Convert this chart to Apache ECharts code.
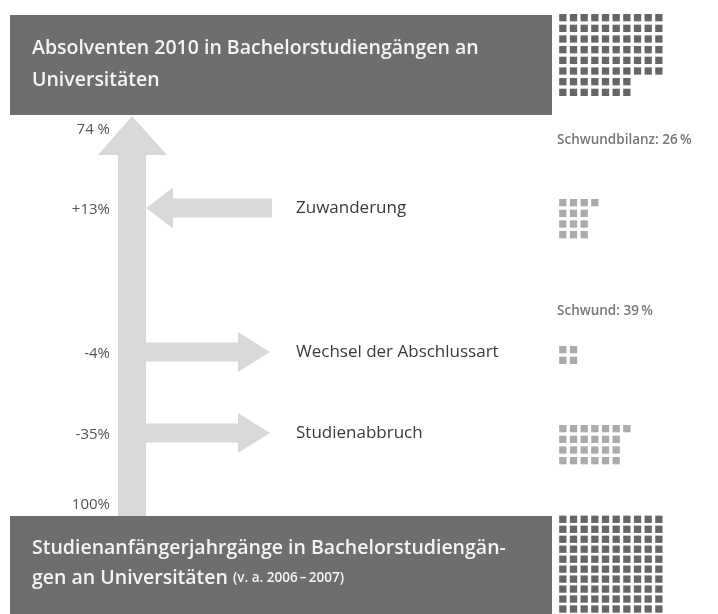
<!DOCTYPE html>
<html>
<head>
<meta charset="utf-8">
<script src="https://cdn.jsdelivr.net/npm/echarts@6/dist/echarts.min.js"></script>
<style>
    html, body { margin: 0; padding: 0; background: #fff; }
    #main { width: 718px; height: 614px; }
</style>
</head>
<body>
<div id="main"></div>
<script>
// Stufen zwischen Studienbeginn und Abschluss (von oben nach unten)
var stepNames = ['Zuwanderung', 'Wechsel der Abschlussart', 'Studienabbruch'];
var stepLabels = ['+13%', '-4%', '-35%'];
var stepDirs = [-1, 1, 1]; // -1 = Zufluss, 1 = Abfluss
var totalLabels = ['74 %', '100%'];
var balanceTexts = ['Schwundbilanz: 26\u2009%', 'Schwund: 39\u2009%'];

// Kästchen je Zeile in den Waffeldiagrammen
var waffleTop = [10, 10, 10, 10, 10, 10, 7, 7];
var waffleZu = [4, 3, 3, 3];
var waffleWechsel = [2, 2];
var waffleAbbruch = [7, 6, 6, 6];
var waffleBottom = [10, 10, 10, 10, 10, 10, 10, 10, 10, 10];

var BOX = '#6e6e6e';
var ARROW = '#d9d9d9';
var FONT = "'Open Sans', 'Noto Sans', sans-serif";

// Layout (Pixel, Koordinatensystem 0..718 x 0..614)
var stepY = [208, 352, 433];
var PITCH = 10.67;
var waffles = [
    { rows: waffleTop, top: 14, color: '#666666' },
    { rows: waffleZu, top: 199, color: '#ababab' },
    { rows: waffleWechsel, top: 346, color: '#ababab' },
    { rows: waffleAbbruch, top: 425, color: '#ababab' },
    { rows: waffleBottom, top: 516, color: '#666666' }
];

function waffleData(rows) {
    var out = [];
    rows.forEach(function (n, r) {
        for (var c = 0; c < n; c++) out.push([c + 0.5, r + 0.5]);
    });
    return out;
}

var chart = echarts.init(document.getElementById('main'));

var grids = [{ left: 0, top: 0, width: 718, height: 614 }];
var xAxes = [{ type: 'value', min: 0, max: 718, show: false, gridIndex: 0 }];
var yAxes = [{ type: 'value', min: 0, max: 614, inverse: true, show: false, gridIndex: 0 }];
var series = [];

waffles.forEach(function (w, i) {
    grids.push({ left: 557.5, top: w.top - 1.67, width: 10 * PITCH, height: w.rows.length * PITCH });
    xAxes.push({ type: 'value', min: 0, max: 10, show: false, gridIndex: i + 1 });
    yAxes.push({ type: 'value', min: 0, max: w.rows.length, inverse: true, show: false, gridIndex: i + 1 });
    series.push({
        type: 'scatter',
        xAxisIndex: i + 1,
        yAxisIndex: i + 1,
        symbol: 'rect',
        symbolSize: 7.3,
        clip: false,
        silent: true,
        itemStyle: { color: w.color, opacity: 1 },
        data: waffleData(w.rows)
    });
});

function txt(x, y, text, font, fill, align) {
    return {
        type: 'text',
        style: {
            x: x, y: y, text: text, font: font, fill: fill,
            align: align, textAlign: align,
            verticalAlign: 'middle', textVerticalAlign: 'middle'
        }
    };
}

// Hauptpfeil (100 % -> 74 %)
series.push({
    type: 'custom',
    xAxisIndex: 0,
    yAxisIndex: 0,
    silent: true,
    data: [totalLabels],
    renderItem: function (params, api) {
        var pts = [[118, 516], [118, 155], [98, 155], [132, 116], [167, 155], [146, 155], [146, 516]]
            .map(function (p) { return api.coord(p); });
        var top = api.coord([110, 130]);
        var bot = api.coord([110, 505]);
        return {
            type: 'group',
            children: [
                { type: 'polygon', shape: { points: pts }, style: { fill: ARROW } },
                txt(top[0], top[1], totalLabels[0], '15px ' + FONT, '#555', 'right'),
                txt(bot[0], bot[1], totalLabels[1], '15px ' + FONT, '#555', 'right')
            ]
        };
    }
});

// Zu- und Abflüsse
series.push({
    type: 'custom',
    xAxisIndex: 0,
    yAxisIndex: 0,
    silent: true,
    data: stepNames.map(function (n, i) { return [i, stepLabels[i]]; }),
    renderItem: function (params, api) {
        var i = params.dataIndex;
        var cy = stepY[i];
        var raw;
        if (stepDirs[i] > 0) {
            raw = [[146, cy - 9.5], [238, cy - 9.5], [238, cy - 20], [270, cy], [238, cy + 20], [238, cy + 9.5], [146, cy + 9.5]];
        } else {
            raw = [[272, cy - 9.5], [173, cy - 9.5], [173, cy - 20.5], [146, cy], [173, cy + 20.5], [173, cy + 9.5], [272, cy + 9.5]];
        }
        var pts = raw.map(function (p) { return api.coord(p); });
        var l = api.coord([110, cy + 2]);
        var n = api.coord([296, cy]);
        return {
            type: 'group',
            children: [
                { type: 'polygon', shape: { points: pts }, style: { fill: ARROW } },
                txt(l[0], l[1], stepLabels[i], '15px ' + FONT, '#555', 'right'),
                txt(n[0], n[1], stepNames[i], '17px ' + FONT, '#3a3a3a', 'left')
            ]
        };
    }
});

chart.setOption({
    animation: false,
    grid: grids,
    xAxis: xAxes,
    yAxis: yAxes,
    series: series,
    graphic: [
        { type: 'rect', shape: { x: 10, y: 15, width: 542, height: 100 }, style: { fill: BOX } },
        { type: 'rect', shape: { x: 10, y: 516, width: 542, height: 110 }, style: { fill: BOX } },
        {
            type: 'text', left: 32, top: 32,
            style: {
                text: 'Absolventen 2010 in Bachelorstudiengängen an\nUniversitäten',
                font: '600 19.5px ' + FONT, fill: '#f4f4f4', lineHeight: 32
            }
        },
        {
            type: 'text', left: 32, top: 533,
            style: {
                text: 'Studienanfängerjahrgänge in Bachelorstudiengän-\ngen an Universitäten {s|(v. a. 2006\u2009–\u20092007)}',
                font: '600 19.5px ' + FONT, fill: '#f4f4f4', lineHeight: 30,
                rich: { s: { font: '600 13.5px ' + FONT, fill: '#f4f4f4', lineHeight: 30 } }
            }
        },
        {
            type: 'text', left: 557, top: 133,
            style: { text: balanceTexts[0], font: '600 13.5px ' + FONT, fill: '#777' }
        },
        {
            type: 'text', left: 557, top: 304,
            style: { text: balanceTexts[1], font: '600 13.5px ' + FONT, fill: '#777' }
        }
    ]
});
</script>
</body>
</html>
